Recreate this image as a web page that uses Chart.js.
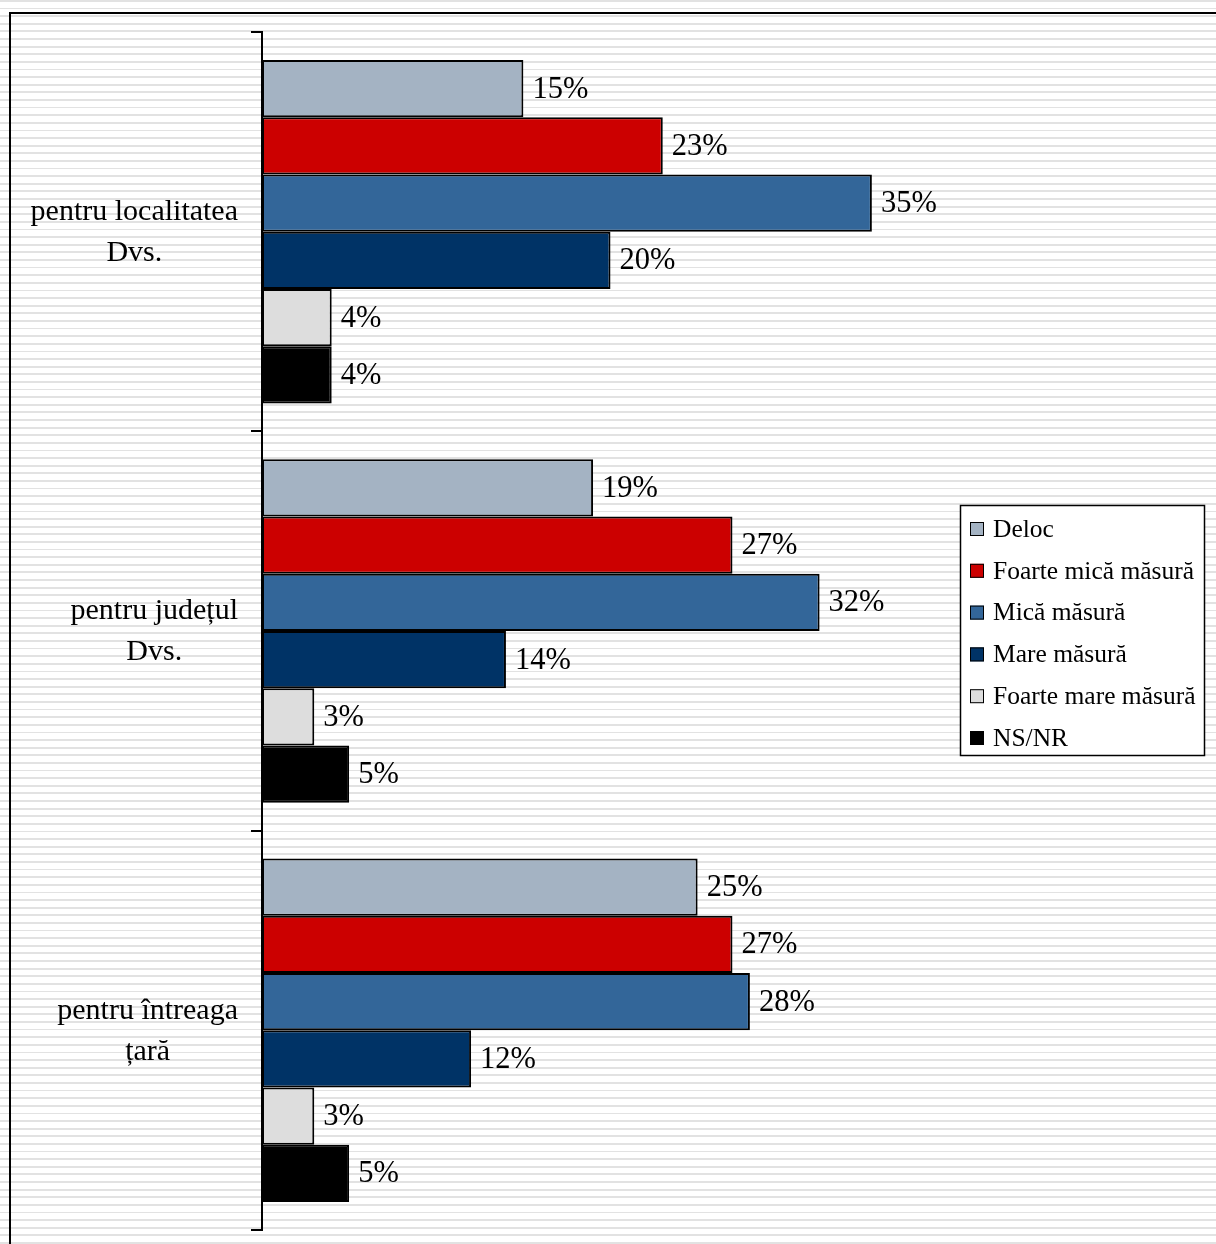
<!DOCTYPE html>
<html>
<head>
<meta charset="utf-8">
<script src="https://cdn.jsdelivr.net/npm/chart.js@4/dist/chart.umd.min.js"></script>
<style>
    html, body { margin: 0; padding: 0; }
    body {
        width: 1216px; height: 1244px; overflow: hidden; position: relative;
        background: repeating-linear-gradient(to bottom, #e2e2e2 0px, #e2e2e2 1.8px, #ffffff 1.8px, #ffffff 7.62px);
    }
    #frame {
        position: absolute; left: 9px; top: 12px; width: 1300px; height: 1300px;
        border-top: 2px solid #000; border-left: 2px solid #000;
    }
    #chart { position: absolute; left: 0; top: 0; }
</style>
</head>
<body>
<div id="frame"></div>
<canvas id="chart" width="1216" height="1244"></canvas>
<script>
// ---- Data ----
const categories = [
    ['pentru localitatea', 'Dvs.'],
    ['pentru județul', 'Dvs.'],
    ['pentru întreaga', 'țară']
];
const seriesNames = ['Deloc', 'Foarte mică măsură', 'Mică măsură', 'Mare măsură', 'Foarte mare măsură', 'NS/NR'];
const deloc = [15, 19, 25];
const foarteMica = [23, 27, 27];
const mica = [35, 32, 28];
const mare = [20, 14, 12];
const foarteMare = [4, 3, 3];
const nsnr = [4, 5, 5];

const colors = ['#a4b3c3', '#cc0000', '#336699', '#003366', '#dddddd', '#000000'];
const serif = "'Liberation Serif', 'Times New Roman', serif";

const datasets = [deloc, foarteMica, mica, mare, foarteMare, nsnr].map((vals, i) => ({
    label: seriesNames[i],
    data: vals,
    backgroundColor: colors[i],
    borderColor: '#000',
    borderWidth: 2,
    borderSkipped: false,
    categoryPercentage: 0.86,
    barPercentage: 1
}));

// Category labels: each block centered on its widest line, right edge near the axis
const categoryLabels = {
    id: 'categoryLabels',
    afterDraw(chart) {
        const ctx = chart.ctx;
        const y = chart.scales.y;
        ctx.save();
        ctx.font = '30px ' + serif;
        ctx.fillStyle = '#000';
        ctx.textBaseline = 'middle';
        ctx.textAlign = 'center';
        const lineH = 41;
        categories.forEach((lines, i) => {
            const maxW = Math.max(...lines.map(l => ctx.measureText(l).width));
            const cx = 238 - maxW / 2;
            const cy = y.getPixelForValue(i);
            lines.forEach((l, j) => {
                ctx.fillText(l, cx, cy + 1 + (j - (lines.length - 1) / 2) * lineH);
            });
        });
        ctx.restore();
    }
};

// Value labels at the end of each bar
const valueLabels = {
    id: 'valueLabels',
    afterDatasetsDraw(chart) {
        const ctx = chart.ctx;
        ctx.save();
        ctx.font = '30.5px ' + serif;
        ctx.fillStyle = '#000';
        ctx.textBaseline = 'middle';
        ctx.textAlign = 'left';
        chart.data.datasets.forEach((ds, di) => {
            chart.getDatasetMeta(di).data.forEach((bar, i) => {
                ctx.fillText(ds.data[i] + '%', bar.x + 9, bar.y + 1);
            });
        });
        ctx.restore();
    }
};

// Boxed legend on the right
const boxLegend = {
    id: 'boxLegend',
    afterDraw(chart) {
        const ctx = chart.ctx;
        ctx.save();
        ctx.fillStyle = '#fff';
        ctx.fillRect(960, 505, 244, 250);
        ctx.strokeStyle = '#000';
        ctx.lineWidth = 1.5;
        ctx.strokeRect(960.5, 505.5, 244, 250);
        ctx.font = '25.5px ' + serif;
        ctx.textBaseline = 'middle';
        ctx.textAlign = 'left';
        chart.data.datasets.forEach((ds, i) => {
            const cy = 529 + i * 41.8;
            ctx.fillStyle = ds.backgroundColor;
            ctx.fillRect(970, cy - 7, 14, 14);
            ctx.lineWidth = 1;
            ctx.strokeStyle = '#000';
            ctx.strokeRect(970.5, cy - 6.5, 13, 13);
            ctx.fillStyle = '#000';
            ctx.fillText(ds.label, 993, cy + 1);
        });
        ctx.restore();
    }
};

new Chart(document.getElementById('chart'), {
    type: 'bar',
    data: { labels: categories.map(c => c.join(' ')), datasets },
    options: {
        indexAxis: 'y',
        responsive: false,
        animation: false,
        devicePixelRatio: 1,
        layout: { padding: { left: 0, top: 32, right: 257, bottom: 14 } },
        plugins: { legend: { display: false }, tooltip: { enabled: false } },
        scales: {
            x: { display: false, min: 0, max: 40 },
            y: {
                ticks: { display: false },
                grid: { drawOnChartArea: false, drawTicks: true, tickLength: 11, color: '#000', lineWidth: 2 },
                border: { display: true, color: '#000', width: 2 },
                afterFit(s) { s.width = 262; }
            }
        }
    },
    plugins: [categoryLabels, valueLabels, boxLegend]
});
</script>
</body>
</html>
